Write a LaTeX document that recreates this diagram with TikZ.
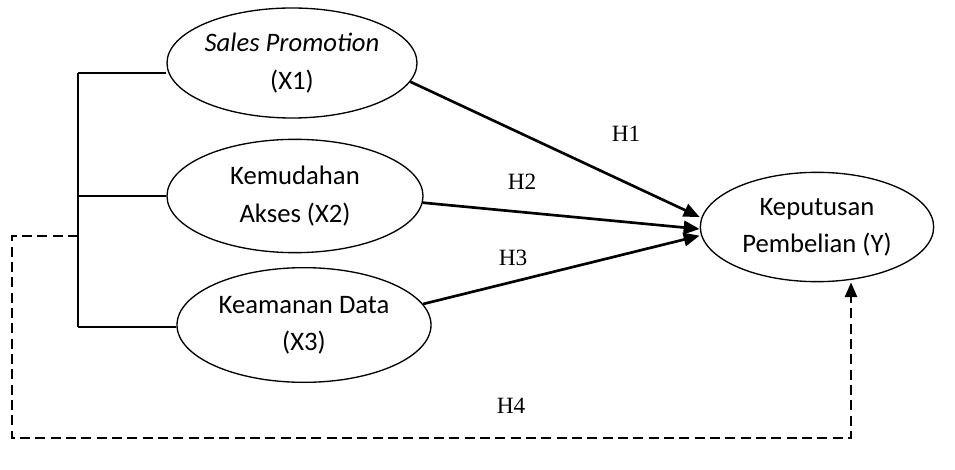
\documentclass[tikz,border=0pt]{standalone}
\usepackage{fontspec}
\setmainfont{Carlito}
\newfontfamily\hypfont{Liberation Serif}
\usetikzlibrary{shapes.geometric,arrows.meta}

\tikzset{
  var/.style={draw, ellipse, line width=1pt, inner sep=0pt, align=center,
    font=\fontsize{20}{28}\selectfont},
  hyp/.style={font=\hypfont\fontsize{17.5}{20}\selectfont},
  path/.style={line width=2pt, -{Triangle[length=12pt,width=10pt]}},
  link/.style={line width=1.5pt},
  joint/.style={line width=1.8pt, dash pattern=on 7.5pt off 4pt, -{Triangle[length=11pt,width=9pt]}}
}

\begin{document}
\begin{tikzpicture}[x=0.75pt,y=-0.75pt]
  \useasboundingbox (0,0) rectangle (955,470);

  % Variables
  \node[var, minimum width=187.5pt, minimum height=82.5pt] (x1) at (292,63) {\textit{Sales Promotion}\\(X1)};
  \node[var, minimum width=192pt, minimum height=85pt] (x2) at (295,196) {Kemudahan\\Akses (X2)};
  \node[var, minimum width=190.5pt, minimum height=86pt] (x3) at (304,325) {Keamanan Data\\(X3)};
  \node[var, minimum width=175pt, minimum height=82pt] (y) at (817,227) {Keputusan\\Pembelian (Y)};

  % Bracket
  \coordinate (btop) at (78,73);
  \coordinate (bmid) at (78,196);
  \coordinate (bjoin) at (78,236);
  \coordinate (bbot) at (78,327);
  \draw[link] (btop) -- (bbot);
  \draw[link] (btop) -- (btop -| x1.west);
  \draw[link] (bmid) -- (x2.west);
  \draw[link] (bbot) -- (bbot -| x3.west);

  % Partial paths
  \draw[path] (x1.-9) -- ([yshift=7.5pt]y.west);
  \draw[path] (x2.-3) -- ([yshift=-1.5pt]y.west);
  \draw[path] (x3.10) -- ([yshift=-6.5pt]y.west);
  \node[hyp] (h1) at (626,134) {H1};
  \node[hyp] (h2) at (522,182) {H2};
  \node[hyp] (h3) at (513,258) {H3};

  % Simultaneous path
  \coordinate (c1) at (12,236);
  \coordinate (c2) at (12,438);
  \coordinate (c3) at (851,438);
  \draw[joint] (bjoin) -- (c1) -- (c2) -- (c3) -- (c3 |- y.south);
  \node[hyp] (h4) at (511,406) {H4};

\end{tikzpicture}
\end{document}
